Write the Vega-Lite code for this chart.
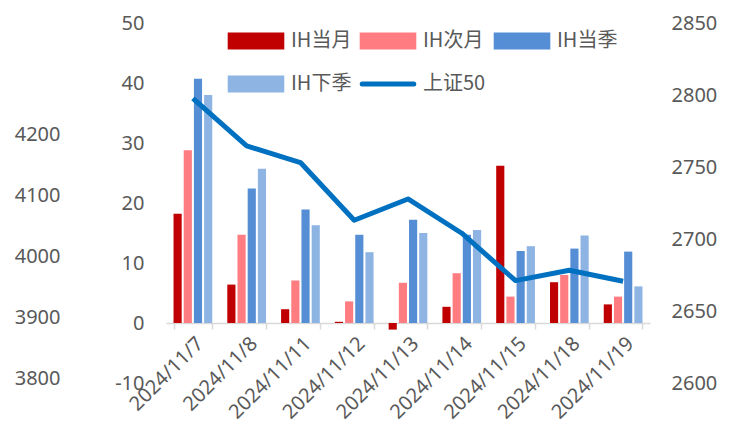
{
  "$schema": "https://vega.github.io/schema/vega-lite/v6.json",
  "width": 484,
  "height": 360,
  "autosize": {"type": "none"},
  "padding": {"left": 166, "top": 23, "right": 80, "bottom": 50},
  "background": "white",
  "config": {
    "view": {"stroke": null},
    "font": "Noto Sans CJK SC",
    "axis": {"labelColor": "#595959", "labelFont": "Noto Sans", "labelFontSize": 20, "grid": false, "domain": false, "ticks": false, "title": null}
  },
  "datasets": {
    "bars": [
      {"date": "2024/11/7", "series": "IH当月", "value": 18.2},
      {"date": "2024/11/7", "series": "IH次月", "value": 28.8},
      {"date": "2024/11/7", "series": "IH当季", "value": 40.7},
      {"date": "2024/11/7", "series": "IH下季", "value": 38.0},
      {"date": "2024/11/8", "series": "IH当月", "value": 6.4},
      {"date": "2024/11/8", "series": "IH次月", "value": 14.7},
      {"date": "2024/11/8", "series": "IH当季", "value": 22.4},
      {"date": "2024/11/8", "series": "IH下季", "value": 25.7},
      {"date": "2024/11/11", "series": "IH当月", "value": 2.3},
      {"date": "2024/11/11", "series": "IH次月", "value": 7.1},
      {"date": "2024/11/11", "series": "IH当季", "value": 18.9},
      {"date": "2024/11/11", "series": "IH下季", "value": 16.3},
      {"date": "2024/11/12", "series": "IH当月", "value": 0.2},
      {"date": "2024/11/12", "series": "IH次月", "value": 3.6},
      {"date": "2024/11/12", "series": "IH当季", "value": 14.7},
      {"date": "2024/11/12", "series": "IH下季", "value": 11.8},
      {"date": "2024/11/13", "series": "IH当月", "value": -1.1},
      {"date": "2024/11/13", "series": "IH次月", "value": 6.7},
      {"date": "2024/11/13", "series": "IH当季", "value": 17.2},
      {"date": "2024/11/13", "series": "IH下季", "value": 15.0},
      {"date": "2024/11/14", "series": "IH当月", "value": 2.7},
      {"date": "2024/11/14", "series": "IH次月", "value": 8.3},
      {"date": "2024/11/14", "series": "IH当季", "value": 14.7},
      {"date": "2024/11/14", "series": "IH下季", "value": 15.5},
      {"date": "2024/11/15", "series": "IH当月", "value": 26.2},
      {"date": "2024/11/15", "series": "IH次月", "value": 4.4},
      {"date": "2024/11/15", "series": "IH当季", "value": 12.0},
      {"date": "2024/11/15", "series": "IH下季", "value": 12.8},
      {"date": "2024/11/18", "series": "IH当月", "value": 6.8},
      {"date": "2024/11/18", "series": "IH次月", "value": 8.0},
      {"date": "2024/11/18", "series": "IH当季", "value": 12.4},
      {"date": "2024/11/18", "series": "IH下季", "value": 14.6},
      {"date": "2024/11/19", "series": "IH当月", "value": 3.1},
      {"date": "2024/11/19", "series": "IH次月", "value": 4.4},
      {"date": "2024/11/19", "series": "IH当季", "value": 11.9},
      {"date": "2024/11/19", "series": "IH下季", "value": 6.1}
    ],
    "line": [
      {"date": "2024/11/7", "series": "上证50", "value": 2797.6},
      {"date": "2024/11/8", "series": "上证50", "value": 2764.6},
      {"date": "2024/11/11", "series": "上证50", "value": 2753.1},
      {"date": "2024/11/12", "series": "上证50", "value": 2713.0},
      {"date": "2024/11/13", "series": "上证50", "value": 2727.8},
      {"date": "2024/11/14", "series": "上证50", "value": 2704.0},
      {"date": "2024/11/15", "series": "上证50", "value": 2671.1},
      {"date": "2024/11/18", "series": "上证50", "value": 2678.3},
      {"date": "2024/11/19", "series": "上证50", "value": 2670.7}
    ]
  },
  "layer": [
    {
      "data": {"name": "bars"},
      "mark": {"type": "bar"},
      "encoding": {
        "x": {
          "field": "date", "type": "ordinal", "sort": null,
          "scale": {"paddingInner": 0.28, "paddingOuter": 0.14},
          "axis": {
            "offset": -60, "domain": true, "domainColor": "#D9D9D9", "domainWidth": 1.5,
            "ticks": true, "tickColor": "#D9D9D9", "tickSize": 6, "tickWidth": 1.5, "tickBand": "extent",
            "labelAngle": -45, "labelFontSize": 20, "labelPadding": 4
          }
        },
        "xOffset": {"field": "series", "type": "nominal", "sort": ["IH当月", "IH次月", "IH当季", "IH下季"], "scale": {"paddingInner": 0.2}},
        "y": {
          "field": "value", "type": "quantitative",
          "scale": {"domain": [-10, 50], "nice": false, "zero": false},
          "axis": {"orient": "left", "values": [-10, 0, 10, 20, 30, 40, 50], "labelPadding": 22, "labelExpr": "'' + datum.value"}
        },
        "color": {
          "field": "series", "type": "nominal",
          "scale": {
            "domain": ["IH当月", "IH次月", "IH当季", "IH下季", "上证50"],
            "range": ["#C00000", "#FF7C80", "#558ED5", "#8EB4E3", "#0070C0"]
          },
          "legend": {
            "orient": "none", "direction": "horizontal", "legendX": 80, "legendY": 8, "columns": 3, "title": null,
            "labelFontSize": 20, "labelColor": "#595959", "labelOffset": 25,
            "symbolSize": 144, "columnPadding": 0, "rowPadding": 11,
            "encode": {
              "symbols": {
                "update": {
                  "shape": {"signal": "datum.value === '上证50' ? 'M-4.3,0H4.3' : 'M-4.3,-1H4.3V1H-4.3Z'"},
                  "fill": {"signal": "datum.value === '上证50' ? 'transparent' : scale('color', datum.value)"},
                  "stroke": {"signal": "datum.value === '上证50' ? scale('color', datum.value) : 'transparent'"},
                  "strokeWidth": {"value": 5},
                  "strokeCap": {"value": "round"},
                  "opacity": {"value": 1}
                }
              }
            }
          }
        }
      }
    },
    {
      "data": {"name": "line"},
      "mark": {"type": "line", "strokeWidth": 5, "strokeJoin": "round"},
      "encoding": {
        "x": {"field": "date", "type": "ordinal", "sort": null},
        "y": {
          "field": "value", "type": "quantitative",
          "scale": {"domain": [2600, 2850], "nice": false, "zero": false},
          "axis": {"orient": "right", "values": [2600, 2650, 2700, 2750, 2800, 2850], "labelPadding": 21, "labelExpr": "'' + datum.value"}
        },
        "color": {"field": "series", "type": "nominal"}
      }
    },
    {
      "data": {"name": "line"},
      "mark": {"type": "point", "opacity": 0},
      "encoding": {
        "x": {"field": "date", "type": "ordinal", "sort": null},
        "y": {
          "datum": 4000, "type": "quantitative",
          "scale": {"domain": [3792, 4384], "nice": false, "zero": false},
          "axis": {"orient": "left", "offset": 106, "values": [3800, 3900, 4000, 4100, 4200], "labelPadding": 0, "labelExpr": "'' + datum.value"}
        }
      }
    }
  ],
  "resolve": {"scale": {"y": "independent"}}
}
